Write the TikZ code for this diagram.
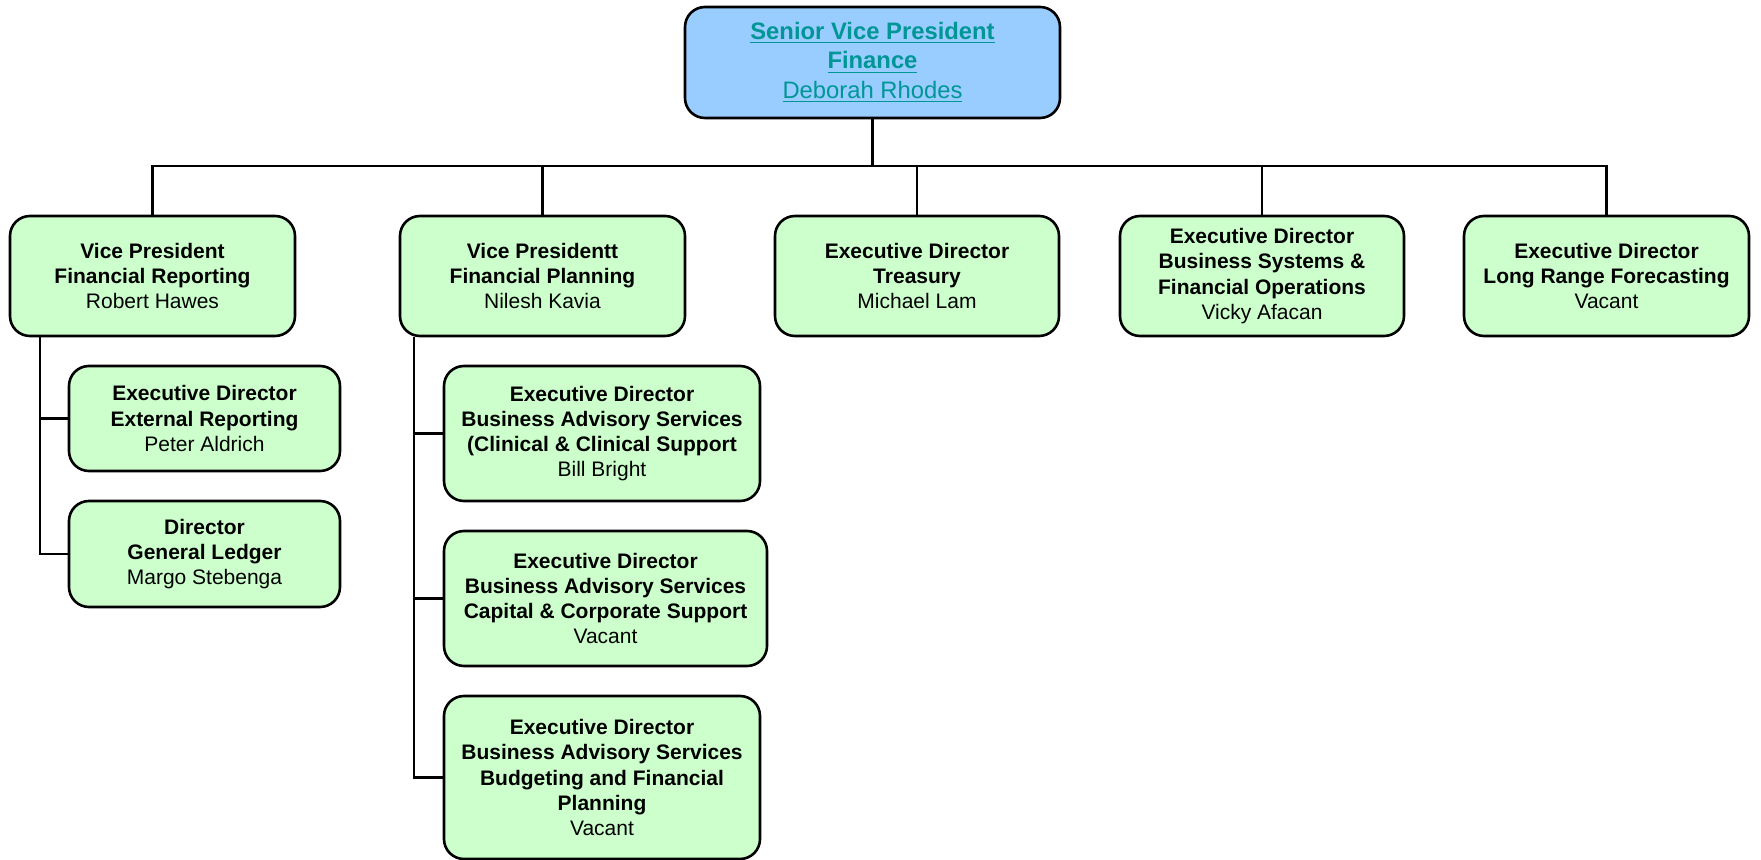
\documentclass[tikz,border=0pt]{standalone}
\usepackage{fontspec}
\setmainfont{Liberation Sans}
\usepackage{tikz}
\usetikzlibrary{calc, positioning}

\definecolor{boxgreen}{RGB}{204,255,204}
\definecolor{boxblue}{RGB}{153,204,255}
\definecolor{linkteal}{RGB}{0,150,150}

\begin{document}
\begin{tikzpicture}[x=0.5pt, y=-0.5pt,
        post/.style={draw=black, line width=1.3pt, rounded corners=10pt, fill=boxgreen,
            align=center, inner sep=0pt, font=\fontsize{10.5}{12.6}\selectfont},
        link/.style={line width=1.4pt, black}]
        \useasboundingbox (0,0) rectangle (1761,860);

        % top
        \node[post, fill=boxblue, minimum width=187.5pt, minimum height=55.5pt,
            font=\fontsize{11.9}{14.8}\selectfont, text=linkteal] (svp) at (872.5,62.5)
            {\textbf{\underline{Senior Vice President}}\\\textbf{\underline{Finance}}\\\underline{Deborah Rhodes}};

        % second row
        \node[post, minimum width=142.5pt, minimum height=60pt] (vpfr) at (152.5,276)
            {\textbf{Vice President}\\\textbf{Financial Reporting}\\Robert Hawes};
        \node[post, minimum width=142.5pt, minimum height=60pt] (vpfp) at (542.5,276)
            {\textbf{Vice Presidentt}\\\textbf{Financial Planning}\\Nilesh Kavia};
        \node[post, minimum width=142pt, minimum height=60pt] (edt) at (917,276)
            {\textbf{Executive Director}\\\textbf{Treasury}\\Michael Lam};
        \node[post, minimum width=142pt, minimum height=60pt] (edbs) at (1262,276)
            {\textbf{Executive Director}\\\textbf{Business Systems \&}\\\textbf{Financial Operations}\\Vicky Afacan};
        \node[post, minimum width=142.5pt, minimum height=60pt] (edlr) at (1606.5,276)
            {\textbf{Executive Director}\\\textbf{Long Range Forecasting}\\Vacant};

        % under financial reporting
        \node[post, minimum width=135.5pt, minimum height=52.5pt] (edxr) at (204.5,418.5)
            {\textbf{Executive Director}\\\textbf{External Reporting}\\Peter Aldrich};
        \node[post, minimum width=135.5pt, minimum height=53pt] (dgl) at (204.5,554)
            {\textbf{Director}\\\textbf{General Ledger}\\Margo Stebenga};

        % under financial planning
        \node[post, minimum width=158pt, minimum height=67.5pt] (bas1) at (602,433.5)
            {\textbf{Executive Director}\\\textbf{Business Advisory Services}\\\textbf{(Clinical \& Clinical Support}\\Bill Bright};
        \node[post, minimum width=161.5pt, minimum height=67.5pt] (bas2) at (605.5,598.5)
            {\textbf{Executive Director}\\\textbf{Business Advisory Services}\\\textbf{Capital \& Corporate Support}\\Vacant};
        \node[post, minimum width=158pt, minimum height=81.5pt] (bas3) at (602,777.5)
            {\textbf{Executive Director}\\\textbf{Business Advisory Services}\\\textbf{Budgeting and Financial}\\\textbf{Planning}\\Vacant};

        \coordinate (bus) at (0,166);
        \coordinate (frline) at (40,0);
        \coordinate (fpline) at (414,0);

        \foreach \n in {vpfr, vpfp, edt, edbs, edlr} {
            \draw[link] (svp.south) -- (svp.south |- bus) -| (\n.north);
        }
        \draw[link] (vpfr.south -| frline) |- (edxr.west);
        \draw[link] (vpfr.south -| frline) |- (dgl.west);
        \foreach \n in {bas1, bas2, bas3} {
            \draw[link] (vpfp.south -| fpline) |- (\n.west);
        }
    \end{tikzpicture}
\end{document}
